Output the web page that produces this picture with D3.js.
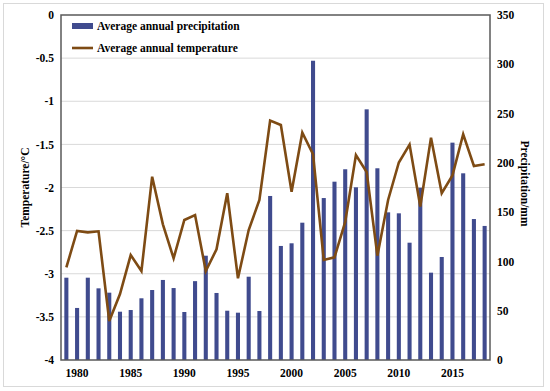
<!DOCTYPE html>
<html><head><meta charset="utf-8">
<script src="https://cdn.jsdelivr.net/npm/d3@7"></script>
<style>body{margin:0;background:#fff}</style>
</head><body>
<svg id="chart" width="550" height="391"></svg>
<script>
const years = d3.range(1979, 2019);
const precipitation = [83.5,52.8,83.5,72.7,68.3,49,50.7,62.6,71,81.2,73,48.7,80,105.8,68,50,48,84.5,49.7,166.4,
  115.7,118.4,139.3,303.6,164.3,180.9,193.5,175.2,254.3,194.5,149.8,148.8,119,174.8,88.6,104.5,220.5,189.4,143,136];
const temperature = [-2.925,-2.504,-2.52,-2.508,-3.548,-3.235,-2.783,-2.968,-1.875,-2.427,-2.821,-2.377,-2.319,-2.968,-2.717,-2.067,-3.053,-2.493,-2.145,-1.225,
  -1.275,-2.049,-1.364,-1.615,-2.84,-2.81,-2.40,-1.625,-1.82,-2.79,-2.145,-1.71,-1.503,-2.22,-1.422,-2.065,-1.86,-1.383,-1.75,-1.73];
const tempTicks = [0,-0.5,-1,-1.5,-2,-2.5,-3,-3.5,-4];
const precTicks = [0,50,100,150,200,250,300,350];
const yearLabels = [1980,1985,1990,1995,2000,2005,2010,2015];
const seriesNames = ["Average annual precipitation","Average annual temperature"];

const svg = d3.select("#chart");
const L = 61, R = 490, T = 15, B = 360;
const font = "'Liberation Serif','Times New Roman',serif";

svg.append("rect").attr("x",3.5).attr("y",3.5).attr("width",540).attr("height",383)
  .attr("fill","none").attr("stroke","#d9d9d9").attr("stroke-width",1);

const x = d3.scaleBand().domain(years).range([L,R]).paddingInner(0.62).paddingOuter(0.31);
const yT = d3.scaleLinear().domain([-4,0]).range([B,T]);
const yP = d3.scaleLinear().domain([0,350]).range([B,T]);

// gridlines
svg.append("g").selectAll("line").data(tempTicks.filter(d=>d>-4 && d<0)).join("line")
  .attr("x1",L).attr("x2",R).attr("y1",d=>yT(d)).attr("y2",d=>yT(d))
  .attr("stroke","#d9d9d9").attr("stroke-width",1);

// bars
svg.append("g").selectAll("rect").data(years).join("rect")
  .attr("x",(d)=>x(d)).attr("width",x.bandwidth())
  .attr("y",(d,i)=>yP(precipitation[i])).attr("height",(d,i)=>B-yP(precipitation[i]))
  .attr("fill","#404B8E");

// line
const line = d3.line().x((d,i)=>x(years[i])+x.bandwidth()/2).y(d=>yT(d));
svg.append("path").datum(temperature).attr("d",line).attr("fill","none")
  .attr("stroke","#7E4B14").attr("stroke-width",2.6).attr("stroke-linejoin","miter");

// plot frame
svg.append("rect").attr("x",L).attr("y",T).attr("width",R-L).attr("height",B-T)
  .attr("fill","none").attr("stroke","#595959").attr("stroke-width",1.5);

// axes
const axL = d3.axisLeft(yT).tickValues(tempTicks).tickSize(0).tickPadding(7).tickFormat(d=>d===0?"0":String(d));
const gL = svg.append("g").attr("transform",`translate(${L},0)`).call(axL);
const axR = d3.axisRight(yP).tickValues(precTicks).tickSize(0).tickPadding(7);
const gR = svg.append("g").attr("transform",`translate(${R},0)`).call(axR);
const axB = d3.axisBottom(x).tickValues(yearLabels).tickSize(0).tickPadding(9);
const gB = svg.append("g").attr("transform",`translate(0,${B})`).call(axB);
[gL,gR,gB].forEach(g=>{
  g.select(".domain").remove();
  g.selectAll("text").attr("font-family",font).attr("font-weight","bold").attr("font-size",11.5).attr("fill","#000");
});

// axis titles
svg.append("text").attr("transform",`translate(29,${(T+B)/2}) rotate(-90)`).attr("text-anchor","middle")
  .attr("font-family",font).attr("font-weight","bold").attr("font-size",11.5).text("Temperature/°C");
svg.append("text").attr("transform",`translate(521,${(T+B)/2 - 4}) rotate(90)`).attr("text-anchor","middle")
  .attr("font-family",font).attr("font-weight","bold").attr("font-size",11.5).text("Precipitation/mm");

// legend
const lg = svg.append("g");
lg.append("rect").attr("x",72).attr("y",23).attr("width",21).attr("height",6).attr("fill","#404B8E");
lg.append("line").attr("x1",72).attr("x2",93).attr("y1",48).attr("y2",48).attr("stroke","#7E4B14").attr("stroke-width",2.6);
lg.selectAll("text").data(seriesNames).join("text")
  .attr("x",97).attr("y",(d,i)=>30+i*22)
  .attr("font-family",font).attr("font-weight","bold").attr("font-size",11.5).text(d=>d);
</script>
</body></html>
